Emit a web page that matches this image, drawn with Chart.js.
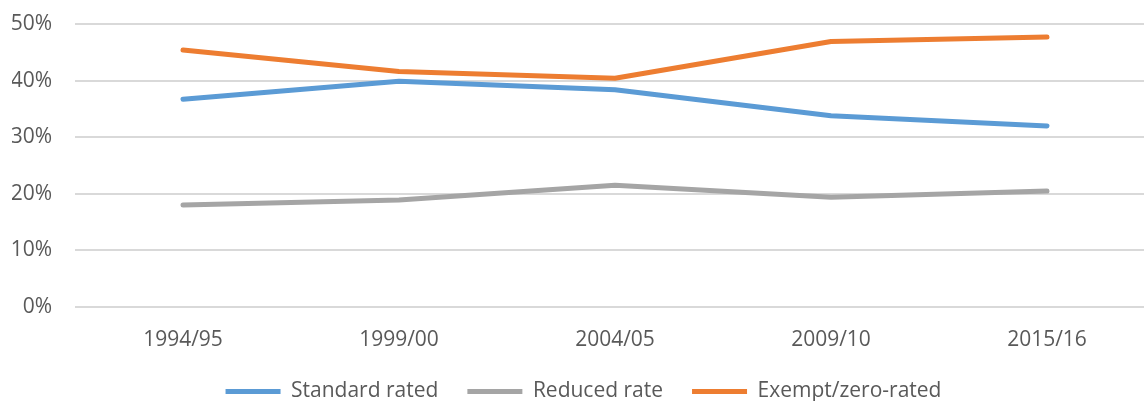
<!DOCTYPE html>
<html>
<head>
<meta charset="utf-8">
<script src="https://cdn.jsdelivr.net/npm/chart.js@4.4.1/dist/chart.umd.min.js"></script>
<style>
  html, body { margin: 0; padding: 0; background: #fff; overflow: hidden; }
  #wrap { position: relative; width: 1182px; height: 401px; }
</style>
</head>
<body>
<div id="wrap"><canvas id="chart"></canvas></div>
<script>
// Share of spending by VAT treatment
const years = ['1994/95', '1999/00', '2004/05', '2009/10', '2015/16'];
const standardRated = [36.7, 39.9, 38.4, 33.8, 32.0];
const reducedRate = [18.0, 18.9, 21.5, 19.4, 20.5];
const exemptZeroRated = [45.4, 41.6, 40.4, 46.9, 47.7];
const yTicks = [0, 10, 20, 30, 40, 50];

const textColor = '#595959';
const gridColor = '#D9D9D9';
const font = { family: '"Open Sans", sans-serif', size: 21 };

function series(label, data, color) {
  return {
    label, data,
    borderColor: color,
    backgroundColor: color,
    borderWidth: 5,
    borderCapStyle: 'round',
    borderJoinStyle: 'round',
    pointRadius: 0,
    pointHoverRadius: 0,
    pointStyle: 'line',
    tension: 0,
    fill: false
  };
}

new Chart(document.getElementById('chart'), {
  type: 'line',
  data: {
    labels: years,
    datasets: [
      series('Standard rated', standardRated, '#5B9BD5'),
      series('Reduced rate', reducedRate, '#A5A5A5'),
      series('Exempt/zero-rated', exemptZeroRated, '#ED7D31')
    ]
  },
  options: {
    responsive: true,
    maintainAspectRatio: false,
    animation: false,
    layout: { padding: { left: 12, right: 27, top: 24, bottom: 0 } },
    plugins: {
      tooltip: { enabled: false },
      legend: {
        position: 'bottom',
        maxHeight: 49,
        labels: {
          color: textColor,
          font: font,
          usePointStyle: true,
          pointStyleWidth: 55,
          padding: 29
        }
      }
    },
    scales: {
      x: {
        offset: true,
        grid: { display: false, drawTicks: false },
        border: { display: false },
        ticks: { color: textColor, font: font, padding: 20, maxRotation: 0, autoSkip: false },
        afterFit: axis => { axis.height = 45; }
      },
      y: {
        min: 0,
        max: 50,
        afterBuildTicks: axis => { axis.ticks = yTicks.map(v => ({ value: v })); },
        afterFit: axis => { axis.width = 63; },
        grid: { color: gridColor, lineWidth: 2, drawTicks: true, tickLength: 23, tickColor: 'rgba(0,0,0,0)' },
        border: { display: false },
        ticks: { color: textColor, font: font, padding: 0, callback: v => v + '%' }
      }
    }
  }
});
</script>
</body>
</html>
